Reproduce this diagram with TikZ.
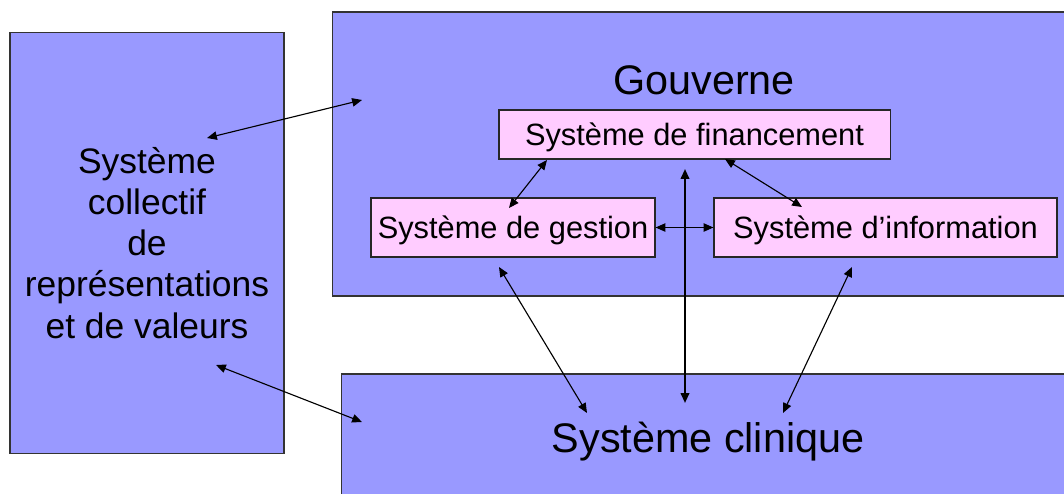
\documentclass[tikz,border=0pt]{standalone}
\usepackage{fontspec}
\setmainfont{Liberation Sans}
\usepackage{tikz}
\usetikzlibrary{arrows.meta, positioning}
\definecolor{paleblue}{HTML}{9999FF}
\definecolor{palepink}{HTML}{FFCCFF}
\tikzset{
  % Box styles
  area/.style={rectangle, draw=black!80, fill=paleblue, line width=0.8pt, inner sep=0pt},
  subsys/.style={rectangle, draw=black!85, fill=palepink, line width=0.8pt, inner sep=0pt, text centered, text depth=0pt, font=\fontsize{21.9}{26}\selectfont},
  bigtitle/.style={anchor=base, font=\fontsize{29.4}{35}\selectfont},
  % Connector styles
  link/.style={{Triangle[length=7pt,width=6pt]}-{Triangle[length=7pt,width=6pt]}, line width=0.8pt},
  mainlink/.style={link, line width=1.4pt},
}

\begin{document}
\begin{tikzpicture}[x=0.025cm, y=-0.025cm]
    \useasboundingbox (0,0) rectangle (1064,493);

    % Outer systems
    \node[area, minimum width=6.85cm, minimum height=10.525cm, align=center,
          font=\fontsize{25.2}{29.2}\selectfont] (collectif) at (147,243)
      {Système\\collectif\\de\\représentations\\et de valeurs};
    \node[area, minimum width=18.425cm, minimum height=7.1cm] (gouv) at (701.5,154) {};
    \node[area, minimum width=18.2cm, minimum height=3.15cm] (clinique) at (706,437) {};

    \node[bigtitle] (gouvtxt) at (704,94) {Gouverne};
    \node[bigtitle] (cliniquetxt) at (708,452) {Système clinique};

    % Sub-systems of Gouverne
    \node[subsys, minimum width=9.775cm, minimum height=1.225cm] (fin) at (694.5,134.5) {Système de financement};
    \node[subsys, minimum width=7.1cm, minimum height=1.475cm] (gest) at (513,227.5) {Système de gestion};
    \node[subsys, minimum width=8.575cm, minimum height=1.475cm] (info) at (885.5,227.5) {Système d’information};

    % Arrow ends
    \coordinate (colA) at (207,138);
    \coordinate (gouvA) at (362,100);
    \coordinate (colB) at (216,365);
    \coordinate (cliA) at (362,422);
    \coordinate (finL) at (547,160);
    \coordinate (gestT) at (509,208);
    \coordinate (finR) at (725,159);
    \coordinate (infoT) at (802,207);
    \coordinate (finB) at (685,169);
    \coordinate (cliB) at (685,403);
    \coordinate (gestB) at (499,267);
    \coordinate (cliC) at (587,413);
    \coordinate (infoB) at (852,267);
    \coordinate (cliD) at (783,413);

    % Arrows
    \draw[link] (colA) -- (gouvA);
    \draw[link] (colB) -- (cliA);
    \draw[link] (finL) -- (gestT);
    \draw[link] (finR) -- (infoT);
    \draw[link] (gest.east) -- (info.west);
    \draw[mainlink] (finB) -- (cliB);
    \draw[link] (gestB) -- (cliC);
    \draw[link] (infoB) -- (cliD);
\end{tikzpicture}
\end{document}
